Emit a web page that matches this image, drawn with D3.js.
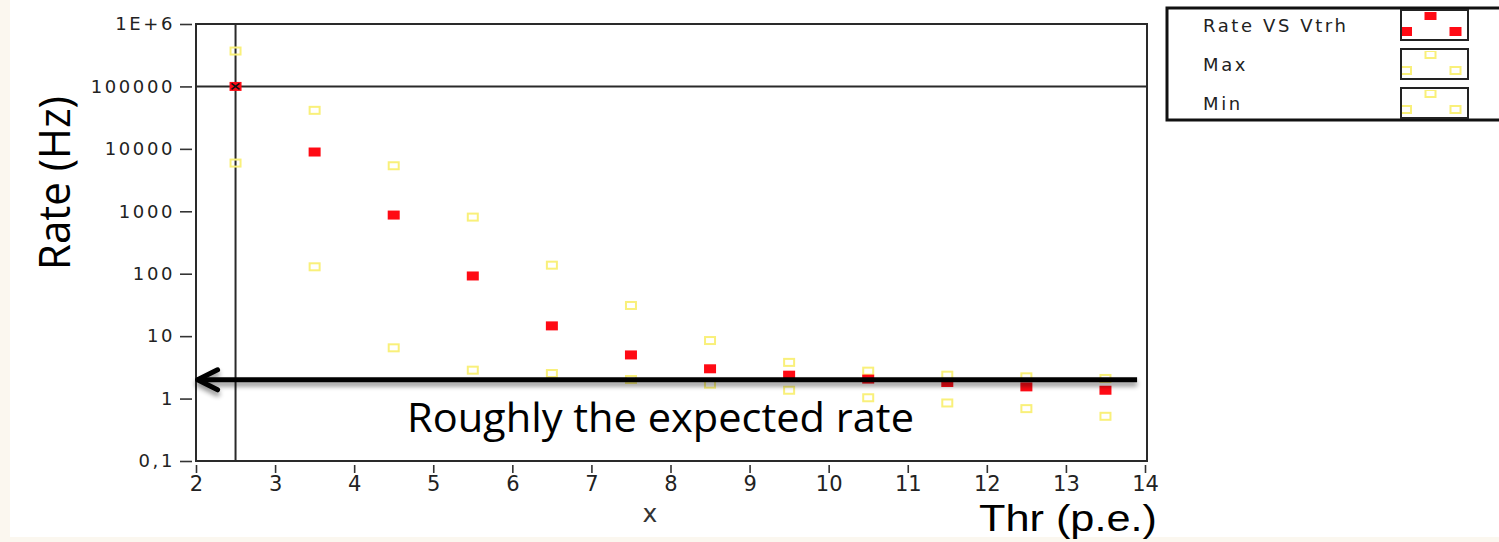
<!DOCTYPE html>
<html>
<head>
<meta charset="utf-8">
<script src="https://cdn.jsdelivr.net/npm/d3@7"></script>
<style>
  html, body { margin: 0; padding: 0; background: #fbf7ef; }
  svg { display: block; }
  .tick text { font-family: "DejaVu Sans", Verdana, sans-serif; fill: #222; }
</style>
</head>
<body>
<svg id="chart" width="1499" height="542"></svg>
<script>
// Threshold scan: trigger rate versus threshold (photo-electrons)
const thresholds = [2.5, 3.5, 4.5, 5.5, 6.5, 7.5, 8.5, 9.5, 10.5, 11.5, 12.5, 13.5];
const rateValues = [100000, 8900, 870, 92, 14.6, 5.0, 3.0, 2.37, 2.05, 1.81, 1.54, 1.36];
const maxValues  = [369000, 41400, 5360, 807, 137, 31, 8.5, 3.8, 2.75, 2.37, 2.23, 2.1];
const minValues  = [5920, 129, 6.5, 2.85, 2.52, 2.02, 1.70, 1.36, 1.03, 0.85, 0.69, 0.52];

const xTicks = [2, 3, 4, 5, 6, 7, 8, 9, 10, 11, 12, 13, 14];
const yTicks = [0.1, 1, 10, 100, 1000, 10000, 100000, 1000000];
const yTickLabels = ["0,1", "1", "10", "100", "1000", "10000", "100000", "1E+6"];

const legendNames = ["Rate VS Vtrh", "Max", "Min"];

const cursorX = 2.5, cursorY = 100000;
const expectedRate = 2;
const expectedSpan = [2.02, 13.9];

const RED = "#ff0a14", YELLOW = "#f9f07a";

const svg = d3.select("#chart");

// page and panel background
svg.append("rect").attr("x", 10).attr("y", 0).attr("width", 1489).attr("height", 537).attr("fill", "#ffffff");

const x = d3.scaleLinear().domain([2, 14]).range([196, 1145]);
const y = d3.scaleLog().domain([0.1, 1e6]).range([461, 24]);

const defs = svg.append("defs");
const shadow = defs.append("filter").attr("id", "shadow")
  .attr("x", "-5%").attr("y", "-200%").attr("width", "110%").attr("height", "500%");
shadow.append("feGaussianBlur").attr("in", "SourceAlpha").attr("stdDeviation", 2.5).attr("result", "b");
shadow.append("feOffset").attr("in", "b").attr("dy", 4).attr("result", "o");
shadow.append("feComponentTransfer").attr("in", "o").attr("result", "s")
  .append("feFuncA").attr("type", "linear").attr("slope", 0.45);
const merge = shadow.append("feMerge");
merge.append("feMergeNode").attr("in", "s");
merge.append("feMergeNode").attr("in", "SourceGraphic");

// axes
const yAxis = d3.axisLeft(y).tickValues(yTicks)
  .tickFormat((d, i) => yTickLabels[i]).tickSize(12).tickPadding(5);
const gy = svg.append("g").attr("transform", "translate(192,0)").call(yAxis);
gy.select(".domain").remove();
gy.selectAll(".tick line").attr("stroke", "#333").attr("stroke-width", 1.6);
gy.selectAll(".tick text").attr("font-size", 18).attr("letter-spacing", 2.6);

const xAxis = d3.axisBottom(x).tickValues(xTicks).tickFormat(d3.format("d")).tickSize(8).tickPadding(3);
const gx = svg.append("g").attr("transform", "translate(0,465)").call(xAxis);
gx.select(".domain").remove();
gx.selectAll(".tick line").attr("stroke", "#333").attr("stroke-width", 1.6);
gx.selectAll(".tick text").attr("font-size", 21);

// plot frame
svg.append("rect")
  .attr("x", x(2)).attr("y", y(1e6))
  .attr("width", x(14) - x(2) + 2).attr("height", y(0.1) - y(1e6))
  .attr("fill", "none").attr("stroke", "#2a2a2a").attr("stroke-width", 2);

// cursor cross-hair
svg.append("line").attr("x1", x(cursorX)).attr("x2", x(cursorX)).attr("y1", y(1e6)).attr("y2", y(0.1))
  .attr("stroke", "#2a2a2a").attr("stroke-width", 2);
svg.append("line").attr("x1", x(2)).attr("x2", x(14) + 2).attr("y1", y(cursorY)).attr("y2", y(cursorY))
  .attr("stroke", "#2a2a2a").attr("stroke-width", 2);

const MW = 12, MH = 9;

// Max / Min hollow markers
function hollow(values) {
  svg.append("g").selectAll("rect").data(values).join("rect")
    .attr("x", (d, i) => x(thresholds[i]) - MW / 2 + 1)
    .attr("y", d => y(d) - MH / 2 + 1)
    .attr("width", MW - 2).attr("height", MH - 2)
    .attr("fill", "none").attr("stroke", YELLOW).attr("stroke-width", 2);
}
hollow(maxValues);
hollow(minValues);

// rate markers
svg.append("g").selectAll("rect").data(rateValues).join("rect")
  .attr("x", (d, i) => x(thresholds[i]) - MW / 2)
  .attr("y", d => y(d) - MH / 2)
  .attr("width", MW).attr("height", MH)
  .attr("fill", RED);

// cursor mark
const cx = x(cursorX), cy = y(cursorY);
svg.append("path")
  .attr("d", `M${cx - 4},${cy - 3}L${cx + 4},${cy + 3}M${cx - 4},${cy + 3}L${cx + 4},${cy - 3}`)
  .attr("stroke", "#111").attr("stroke-width", 1.6);

// expected-rate arrow
const ay = y(expectedRate);
const arrow = svg.append("g").attr("filter", "url(#shadow)");
arrow.append("line")
  .attr("x1", x(expectedSpan[1])).attr("x2", x(expectedSpan[0]))
  .attr("y1", ay).attr("y2", ay)
  .attr("stroke", "#000").attr("stroke-width", 5);
const tipX = x(expectedSpan[0]);
arrow.append("path")
  .attr("d", `M${tipX + 20},${ay - 10}L${tipX},${ay}L${tipX + 20},${ay + 10}`)
  .attr("fill", "none").attr("stroke", "#000").attr("stroke-width", 5)
  .attr("stroke-linecap", "round").attr("stroke-linejoin", "round");

svg.append("text")
  .attr("x", 407).attr("y", 432)
  .attr("font-family", "'Open Sans', 'Noto Sans', sans-serif").attr("font-size", 41)
  .attr("textLength", 507).attr("lengthAdjust", "spacingAndGlyphs")
  .attr("fill", "#000").text("Roughly the expected rate");

// axis titles
svg.append("text")
  .attr("x", 979).attr("y", 531)
  .attr("font-family", "'Liberation Sans', Arial, sans-serif").attr("font-size", 36)
  .attr("textLength", 178).attr("lengthAdjust", "spacingAndGlyphs")
  .attr("fill", "#000").text("Thr (p.e.)");

svg.append("text")
  .attr("transform", "translate(70,270) rotate(-90)")
  .attr("font-family", "'Open Sans', 'Noto Sans', sans-serif").attr("font-size", 44)
  .attr("textLength", 174).attr("lengthAdjust", "spacingAndGlyphs")
  .attr("fill", "#000").text("Rate (Hz)");

svg.append("text")
  .attr("x", 650).attr("y", 522).attr("text-anchor", "middle")
  .attr("font-family", "'DejaVu Sans', sans-serif").attr("font-size", 25)
  .attr("fill", "#333").text("x");

// legend
const legend = svg.append("g");
legend.append("rect").attr("x", 1167).attr("y", 8).attr("width", 400).attr("height", 112)
  .attr("fill", "#fff").attr("stroke", "#111").attr("stroke-width", 3);

legendNames.forEach((name, i) => {
  const top = 10 + i * 39;
  legend.append("text")
    .attr("x", 1203).attr("y", top + 22)
    .attr("font-family", "'DejaVu Sans', Verdana, sans-serif").attr("font-size", 18)
    .attr("letter-spacing", 2.6).attr("fill", "#222").text(name);

  const clipId = "sw" + i;
  defs.append("clipPath").attr("id", clipId)
    .append("rect").attr("x", 1402).attr("y", top + 2).attr("width", 65).attr("height", 27);

  const sw = legend.append("g").attr("clip-path", `url(#${clipId})`);
  const pts = [[1406, top + 21.5], [1430.5, top + 5.5], [1455.5, top + 21.5]];
  pts.forEach(([px, py]) => {
    if (i === 0) {
      sw.append("rect").attr("x", px - MW / 2).attr("y", py - MH / 2)
        .attr("width", MW).attr("height", MH).attr("fill", RED);
    } else {
      sw.append("rect").attr("x", px - MW / 2 + 1).attr("y", py - MH / 2 + 1)
        .attr("width", MW - 2).attr("height", MH - 2)
        .attr("fill", "none").attr("stroke", YELLOW).attr("stroke-width", 2);
    }
  });
  legend.append("rect").attr("x", 1401).attr("y", top).attr("width", 67).attr("height", 30)
    .attr("fill", "none").attr("stroke", "#222").attr("stroke-width", 2);
});
</script>
</body>
</html>
